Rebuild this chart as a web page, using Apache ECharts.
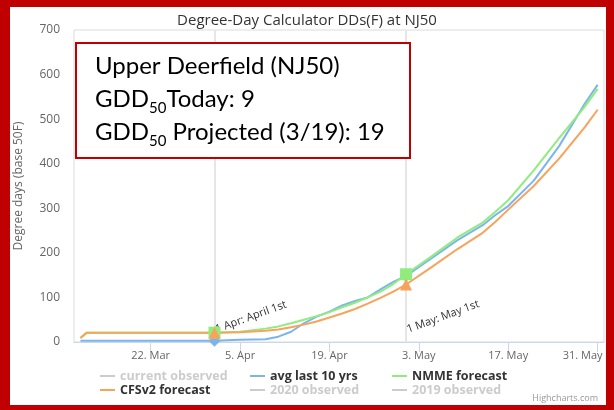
<!DOCTYPE html>
<html><head><meta charset="utf-8">
<script src="https://cdn.jsdelivr.net/npm/echarts@6/dist/echarts.min.js"></script>
<style>html,body{margin:0;padding:0;background:#fff}#c{width:614px;height:410px}</style>
</head><body><div id="c"></div>
<script>
// ---------- data ----------
const baseDate = '2021-03-10';
const dates = ['2021-03-11','2021-03-12','2021-03-16','2021-03-20','2021-03-24','2021-03-28','2021-04-01',
  '2021-04-05','2021-04-09','2021-04-11','2021-04-13','2021-04-15','2021-04-17','2021-04-19','2021-04-21',
  '2021-04-23','2021-04-25','2021-04-27','2021-04-29','2021-05-01','2021-05-05','2021-05-09','2021-05-13',
  '2021-05-15','2021-05-17','2021-05-21','2021-05-25','2021-05-29','2021-05-31'];
const avg10 = [3,3,3,3,3,3,3, 5,6,12,23,42,57,68,82, 92,100,118,135,148,188,228,262, 285,305,362,440,535,577];
const nmme  = [9,21,21,21,21,21,21, 23,30,35,42,50,58,67,78, 88,100,113,130,152,192,234,268, 292,318,385,458,528,568];
const cfsv2 = [9,21,21,21,21,21,21, 22,25,28,33,39,46,55,64, 74,86,99,113,129,168,208,245, 270,297,350,412,482,521];
const legendNames = ['current observed','avg last 10 yrs','NMME forecast','CFSv2 forecast','2020 observed','2019 observed'];
const hiddenNames = ['current observed','2020 observed','2019 observed'];
const tickDates = ['2021-03-22','2021-04-05','2021-04-19','2021-05-03','2021-05-17','2021-05-31'];
const tickLabels = ['22. Mar','5. Apr','19. Apr','3. May','17. May','31. May'];
const markerDates = ['2021-04-01','2021-05-01'];
const plotLineDates = ['2021-04-01','2021-05-01'];
const plotLineLabels = ['1 Apr: April 1st','1 May: May 1st'];
const titleText = 'Degree-Day Calculator DDs(F) at NJ50';
const yAxisTitle = 'Degree days (base 50F)';
const boxLines = ['Upper Deerfield (NJ50)', 'GDD|50|Today: 9', 'GDD|50| Projected (3/19): 19'];

// ---------- helpers ----------
const DAY = 86400000;
const dayOf = s => Math.round((Date.parse(s) - Date.parse(baseDate)) / DAY);
const xs = dates.map(dayOf);
const pairs = vals => xs.map((x, i) => [x, vals[i]]);
const valueAt = (vals, d) => vals[dates.indexOf(d)];
const tickDays = tickDates.map(dayOf);
const FONT = '"Open Sans", "Liberation Sans", sans-serif';

const chart = echarts.init(document.getElementById('c'), null, {renderer: 'canvas'});

const lineSeries = (name, vals, color) => ({
  name, type: 'line', data: pairs(vals), showSymbol: false, symbol: 'none',
  lineStyle: {width: 2, color}, itemStyle: {color}, z: 2, emphasis: {disabled: true}
});
const markerSeries = (name, vals, color, symbol, size) => ({
  name, type: 'scatter', data: markerDates.map(d => [dayOf(d), valueAt(vals, d)]),
  symbol, symbolSize: size, itemStyle: {color, opacity: 1}, z: 3, emphasis: {disabled: true}
});

const colCls = {};
legendNames.forEach((n, i) => colCls[n] = 'c' + (i % 3));

const option = {
  animation: false,
  backgroundColor: '#ffffff',
  title: {
    text: titleText, left: 'center', top: 13, padding: 0,
    textStyle: {fontFamily: FONT, fontSize: 15, fontWeight: 'normal', color: '#333333'}
  },
  grid: {left: 74, right: 10, top: 30, bottom: 68, show: true, borderColor: '#dcdcdc', borderWidth: 1, backgroundColor: 'transparent'},
  legend: {
    data: legendNames, left: 100, top: 369, width: 460, padding: 0,
    orient: 'horizontal', itemGap: 0, icon: 'rect', itemWidth: 15, itemHeight: 2,
    selected: Object.fromEntries(hiddenNames.map(n => [n, false])),
    inactiveColor: '#cccccc',
    formatter: name => '{' + colCls[name] + '|' + name + '}',
    textStyle: {
      fontFamily: FONT, fontWeight: 'bold', fontSize: 12.5, color: '#333333', lineHeight: 14,
      rich: {c0: {width: 130}, c1: {width: 122}, c2: {width: 120}}
    }
  },
  xAxis: {
    type: 'value', min: 0, max: 83,
    axisLine: {show: true, lineStyle: {color: '#ccd6eb', width: 1}},
    axisTick: {show: true, customValues: tickDays, length: 10, lineStyle: {color: '#ccd6eb'}},
    axisLabel: {
      customValues: tickDays, color: '#666666', fontSize: 11, fontFamily: FONT, margin: 8,
      formatter: v => {
        const i = tickDays.indexOf(v);
        if (i < 0) return '';
        return i === tickDays.length - 1 ? '{r|' + tickLabels[i] + '}' : tickLabels[i];
      },
      rich: {r: {fontSize: 11, fontFamily: FONT, color: '#666666', padding: [0, 30, 0, 0]}}
    },
    splitLine: {show: false}
  },
  yAxis: {
    type: 'value', min: 0, max: 700, interval: 100,
    name: yAxisTitle, nameLocation: 'middle', nameGap: 49,
    nameTextStyle: {color: '#666666', fontSize: 12, fontFamily: FONT},
    axisLine: {show: false}, axisTick: {show: false}, splitLine: {show: false},
    axisLabel: {color: '#666666', fontSize: 12, fontFamily: FONT, margin: 14}
  },
  series: [
    {name: '_plotlines', type: 'line', data: [], z: 1,
     markLine: {silent: true, z: 1, symbol: ['none', 'none'], label: {show: false},
       lineStyle: {color: '#e6e6e6', width: 2, type: 'solid'},
       data: plotLineDates.map(d => ({xAxis: dayOf(d)}))}},
    {name: 'current observed', type: 'line', data: [], itemStyle: {color: '#434348'}},
    lineSeries('avg last 10 yrs', avg10, '#7cb5ec'),
    lineSeries('NMME forecast', nmme, '#90ed7d'),
    lineSeries('CFSv2 forecast', cfsv2, '#f7a35c'),
    {name: '2020 observed', type: 'line', data: [], itemStyle: {color: '#8085e9'}},
    {name: '2019 observed', type: 'line', data: [], itemStyle: {color: '#f15c80'}},
    markerSeries('_m_avg', avg10, '#7cb5ec', 'diamond', [12, 12]),
    markerSeries('_m_nmme', nmme, '#90ed7d', 'rect', 12),
    markerSeries('_m_cfs', cfsv2, '#f7a35c', 'triangle', 12)
  ]
};
chart.setOption(option);

// ---------- annotations ----------
const RED = '#c00000';
const richText = boxLines.map(l => {
  const parts = l.split('|');
  if (parts.length === 1) return '{a|' + parts[0] + '}';
  return '{a|' + parts[0] + '}{s|' + parts[1] + '}{a|' + parts[2] + '}';
}).join('\n');

const graphics = [
  {type: 'rect', z: 100, shape: {x: 76, y: 43, width: 334, height: 115},
   style: {fill: '#ffffff', stroke: RED, lineWidth: 2}},
  {type: 'text', z: 101, x: 95, y: 50,
   style: {text: richText, fill: '#000000', align: 'left', verticalAlign: 'top',
     rich: {
       a: {fontFamily: 'Lato, "Open Sans", sans-serif', fontSize: 24, lineHeight: 33, fill: '#000000'},
       s: {fontFamily: 'Lato, "Open Sans", sans-serif', fontSize: 15, lineHeight: 14, verticalAlign: 'bottom', fill: '#000000'}
     }}},
  {type: 'text', z: 50, x: 598, y: 398,
   style: {text: 'Highcharts.com', fill: '#999999', font: '9px ' + FONT, align: 'right', verticalAlign: 'middle'}},
  {type: 'rect', z: 200, shape: {x: 0, y: 0, width: 614, height: 7}, style: {fill: RED}},
  {type: 'rect', z: 200, shape: {x: 0, y: 0, width: 10, height: 410}, style: {fill: RED}},
  {type: 'rect', z: 200, shape: {x: 606, y: 0, width: 8, height: 410}, style: {fill: RED}},
  {type: 'rect', z: 200, shape: {x: 0, y: 405, width: 614, height: 5}, style: {fill: RED}}
];
plotLineDates.forEach((d, i) => {
  const p = chart.convertToPixel({gridIndex: 0}, [dayOf(d), 0]);
  graphics.push({type: 'text', z: 1, x: p[0] + 3, y: p[1] - 7, rotation: 20 * Math.PI / 180,
    style: {text: plotLineLabels[i], fill: '#333333', font: '11px ' + FONT, align: 'left', verticalAlign: 'bottom'}});
});
chart.setOption({graphic: {elements: graphics}});
</script></body></html>
